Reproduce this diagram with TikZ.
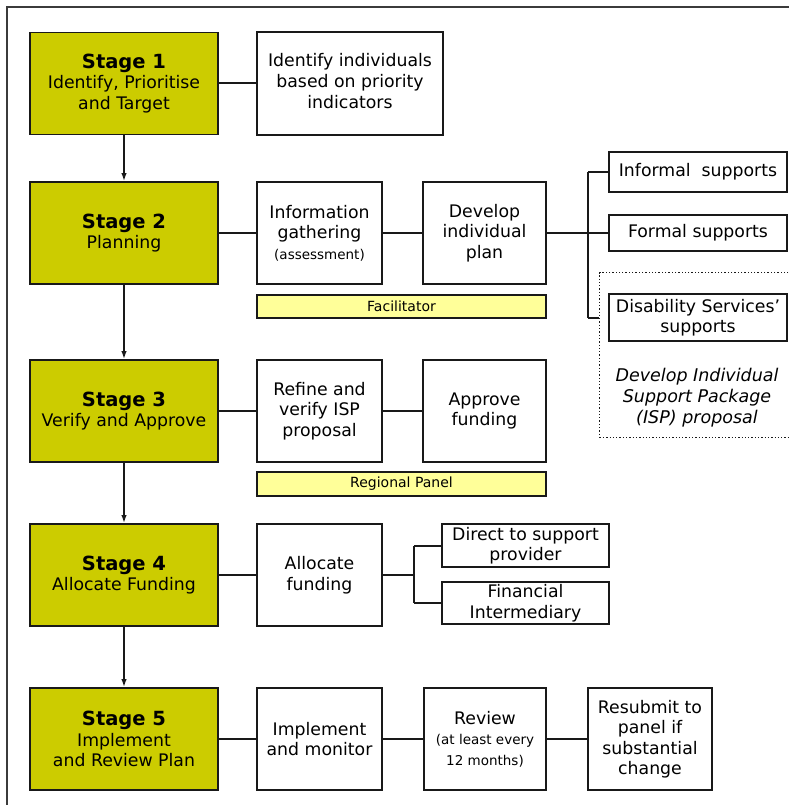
\documentclass[tikz,border=0pt]{standalone}
\usepackage{fontspec}
\setmainfont{DejaVu Sans}
\usetikzlibrary{arrows.meta}
\definecolor{stagecol}{RGB}{204,204,0}
\definecolor{barcol}{RGB}{255,255,153}
\definecolor{linecol}{RGB}{25,25,25}
\tikzset{
  box/.style={draw=linecol, line width=1.8pt, fill=white, align=center, inner sep=1pt,
    font=\fontsize{17.3}{20.5}\selectfont},
  stagebox/.style={box, fill=stagecol, minimum width=188pt, minimum height=102pt},
  midbox/.style={box, minimum width=125pt, minimum height=102pt},
  barbox/.style={draw=linecol, line width=1.4pt, fill=barcol, minimum width=289pt, minimum height=23pt,
    inner sep=0pt, font=\fontsize{14}{15}\selectfont},
  conn/.style={draw=linecol, line width=2pt},
  stagearrow/.style={conn, -{Latex[length=8pt,width=5.5pt]}},
}
\newcommand{\stg}[1]{{\fontsize{19.5}{22}\selectfont\bfseries #1}}
\newcommand{\smallsw}{\fontsize{13.5}{17}\selectfont}
\begin{document}
\begin{tikzpicture}[x=1pt,y=-1pt]
\useasboundingbox (0,0) rectangle (788,805);
\fill[white] (0,0) rectangle (788,805);
% frame
\draw[linecol!85, line width=1.5pt] (7,810) -- (7,7) -- (795,7);

% stage boxes
\node[stagebox] (s1) at (124,83.5) {\stg{Stage 1}\\Identify, Prioritise\\and Target};
\node[stagebox] (s2) at (124,233) {\stg{Stage 2}\\Planning};
\node[stagebox] (s3) at (124,411) {\stg{Stage 3}\\Verify and Approve};
\node[stagebox] (s4) at (124,575) {\stg{Stage 4}\\Allocate Funding};
\node[stagebox] (s5) at (124,739) {\stg{Stage 5}\\Implement\\and Review Plan};

% row 1
\node[box, minimum width=186pt, minimum height=103pt] (idf) at (350,83.5)
  {\raisebox{4pt}{\begin{tabular}{@{}c@{}}Identify individuals\\[0.5pt]based on priority\\[0.5pt]indicators\end{tabular}}};

% row 2
\node[midbox] (info) at (319.5,233) {Information\\gathering\\\smallsw (assessment)};
\node[midbox, minimum width=123pt] (dev) at (484.5,233) {Develop\\individual\\plan};
\node[barbox] (fac) at (401.5,306.5) {Facilitator};

% dotted ISP region
\node[draw=linecol, dotted, line width=1.3pt, minimum width=200pt, minimum height=165pt,
  anchor=north west, inner sep=0pt] (isp) at (599,272) {};
\node[box, minimum width=178pt, minimum height=40pt] (inf) at (698,172) {Informal\ \ supports};
\node[box, minimum width=178pt, minimum height=36pt] (frm) at (698,233) {Formal supports};
\node[box, minimum width=178pt, minimum height=47pt] (dis) at (698,317.5) {Disability Services'\\supports};
\node[align=center, font=\fontsize{17.5}{21}\selectfont\itshape] (ispt) at (697,397.5)
  {Develop Individual\\Support Package\\(ISP) proposal};

% row 3
\node[midbox] (ref) at (319.5,411) {Refine and\\verify ISP\\proposal};
\node[midbox, minimum width=123pt] (apr) at (484.5,411) {Approve\\funding};
\node[barbox, minimum height=24pt] (reg) at (401.5,484) {Regional Panel};

% row 4
\node[midbox] (alc) at (319.5,575) {Allocate\\funding};
\node[box, minimum width=167pt, minimum height=43pt] (dir) at (525.5,545.5) {Direct to support\\provider};
\node[box, minimum width=167pt, minimum height=42pt] (fin) at (525.5,603) {Financial\\Intermediary};

% row 5
\node[midbox] (imp) at (319.5,739) {Implement\\and monitor};
\node[midbox, minimum width=122pt] (rev) at (485,739) {Review\\\smallsw (at least every\\\smallsw 12 months)};
\node[midbox, minimum width=124pt] (rsb) at (650,739) {Resubmit to\\panel if\\substantial\\change};

% junction coordinates
\coordinate (j2) at (588,233);
\coordinate (j2t) at (588,172);
\coordinate (j2b) at (588,318);
\coordinate (j4) at (414,575);
\coordinate (j4t) at (414,545.5);
\coordinate (j4b) at (414,603);

% connectors
\draw[conn] (s1.east) -- (idf.west);
\draw[conn] (s2.east) -- (info.west);
\draw[conn] (info.east) -- (dev.west);
\draw[conn] (dev.east) -- (j2) -- (frm.west);
\draw[conn] (j2t) -- (j2b);
\draw[conn] (j2t) -- (inf.west);
\draw[conn] (j2b) -- (isp.west |- j2b);
\draw[conn] (s3.east) -- (ref.west);
\draw[conn] (ref.east) -- (apr.west);
\draw[conn] (s4.east) -- (alc.west);
\draw[conn] (alc.east) -- (j4);
\draw[conn] (j4t) -- (j4b);
\draw[conn] (j4t) -- (dir.west);
\draw[conn] (j4b) -- (fin.west);
\draw[conn] (s5.east) -- (imp.west);
\draw[conn] (imp.east) -- (rev.west);
\draw[conn] (rev.east) -- (rsb.west);

% stage arrows
\draw[stagearrow] (s1.south) -- (s2.north);
\draw[stagearrow] (s2.south) -- (s3.north);
\draw[stagearrow] (s3.south) -- (s4.north);
\draw[stagearrow] (s4.south) -- (s5.north);
\end{tikzpicture}
\end{document}
